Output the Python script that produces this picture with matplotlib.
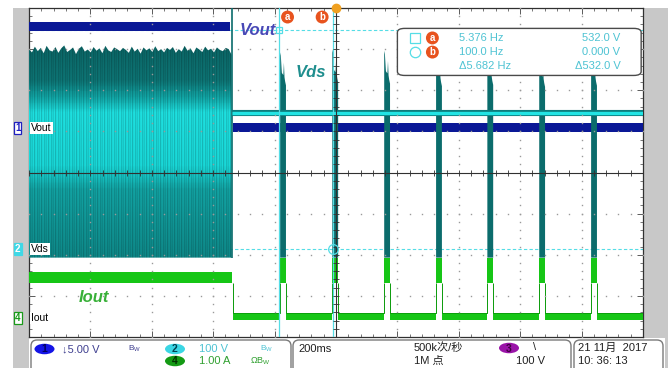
import numpy as np
import matplotlib
matplotlib.use("Agg")
import matplotlib.pyplot as plt
import matplotlib.transforms as mtransforms
from matplotlib.patches import FancyBboxPatch, Ellipse, Rectangle, Polygon
from matplotlib.colors import LinearSegmentedColormap, Normalize

plt.rcParams['font.family'] = ['Liberation Sans', 'Noto Sans CJK SC', 'DejaVu Sans']

# ---- scope settings ----
time_per_div = 0.2                     # s/div, 10 div across
vout_scale, vout_pos = 5.0, 1.08       # V/div, channel marker (div from centre)
vds_scale, vds_pos = 100.0, -1.86
iout_scale, iout_pos = 1.0, -3.54

# ---- traces ----
t_switch = 0.66                        # end of dense switching
vout_before = [11.8, 12.9]             # noise band, V
vout_after = [-0.5, 0.6]

vds_floor = -21.0
vds_flat = 331.0
vds_env_top = [486, 478, 492, 481, 489, 476, 494, 483, 480, 491, 477, 488,
               495, 479, 484, 490, 474, 487, 493, 480, 485, 478, 491, 482,
               488, 476, 494, 483, 479, 490, 486, 481, 489, 484, 477, 492,
               480, 487, 475, 490, 483, 488, 479, 493, 481, 486, 478, 489,
               484, 491, 477, 486, 480, 494, 482, 488, 476, 490, 485, 479,
               492, 483, 487, 478, 490, 484, 481, 489, 486, 472]
burst_t = [0.818, 0.988, 1.157, 1.326, 1.493, 1.662, 1.831]
burst_peak = [478, 485, 482, 476, 479, 474, 477]
burst_width = 0.019

iout_before = [0.85, 1.12]             # A
iout_low = [-0.05, 0.12]
iout_burst = [0.85, 1.46]

cursor_t = [0.815, 0.991]
cursor_v = [532.0, 0.0]

meas_left = ["5.376 Hz", "100.0 Hz", "\u03945.682 Hz"]
meas_right = ["532.0 V", "0.000 V", "\u0394532.0 V"]

# colours
c_vout = '#0a1896'
c_vds_dark = '#0b6c6c'
c_vds = '#22e4e4'
c_iout = '#16c616'
c_iout_dark = '#0a9a0a'
c_cursor = '#55dde6'
c_orange = '#e8531e'


def vdiv(v, scale, pos):
    return np.asarray(v, dtype=float) / scale + pos


fig = plt.figure(figsize=(6.68, 3.68), dpi=100)
fig.patch.set_facecolor('white')

# full-figure overlay in pixel coordinates for the scope chrome
ui = fig.add_axes([0, 0, 1, 1], zorder=0)
ui.set_xlim(0, 668)
ui.set_ylim(368, 0)
ui.axis('off')

ax = fig.add_axes([29 / 668, 31 / 368, 614 / 668, 329 / 368], zorder=1)
ax.set_xlim(0, 10 * time_per_div)
ax.set_ylim(-4, 4)
ax.set_facecolor('white')

# ---- graticule ----
ax.set_xticks(np.arange(0, 2.01, time_per_div))
ax.set_xticks(np.arange(0, 2.01, time_per_div / 5), minor=True)
ax.set_yticks(np.arange(-4, 4.01, 1))
ax.set_yticks(np.arange(-4, 4.01, 0.2), minor=True)
ax.tick_params(which='both', direction='in', top=True, right=True,
               labelbottom=False, labelleft=False, color='#404040')
ax.tick_params(which='major', length=4, width=0.6)
ax.tick_params(which='minor', length=2, width=0.5)
for s in ax.spines.values():
    s.set_color('#303030')
    s.set_linewidth(0.9)

gx, gy = [], []
for k in range(1, 10):
    if k == 5:
        continue
    ys = np.arange(-4, 4.001, 0.2)
    gx += [k * time_per_div] * len(ys)
    gy += list(ys)
for k in range(-3, 4):
    if k == 0:
        continue
    xs = np.arange(0, 2.001, time_per_div / 5)
    gx += list(xs)
    gy += [k] * len(xs)
ax.plot(gx, gy, ls='none', marker='s', ms=1.0, mec='none', mfc='#9a9a9a', zorder=8)
ax.axhline(0, color='#303030', lw=0.8, zorder=8)
ax.axvline(5 * time_per_div, color='#303030', lw=0.8, zorder=8)
ax.plot(np.arange(0, 2.001, time_per_div / 5), np.zeros(51), ls='none',
        marker='|', ms=5, mew=0.6, color='#303030', zorder=8)
ax.plot(np.full(41, 5 * time_per_div), np.arange(-4, 4.001, 0.2), ls='none',
        marker='_', ms=5, mew=0.6, color='#303030', zorder=8)

# ---- cursor lines ----
for t in cursor_t:
    ax.axvline(t, color=c_cursor, lw=0.9, zorder=7)
for v in cursor_v:
    ax.axhline(vdiv(v, vds_scale, vds_pos), color=c_cursor, lw=0.8,
               ls=(0, (3, 2)), zorder=1)

# ---- Vout ----
ax.fill_between([0, t_switch - 0.005], *vdiv(vout_before, vout_scale, vout_pos),
                color=c_vout, lw=0, zorder=3)
ax.fill_between([t_switch + 0.005, 2.0], *vdiv(vout_after, vout_scale, vout_pos),
                color=c_vout, lw=0, zorder=3)

# ---- Vds: dense switching region ----
env_t = np.linspace(0, t_switch, len(vds_env_top))
top_div = vdiv(vds_env_top, vds_scale, vds_pos)
bot_div = float(vdiv(vds_floor, vds_scale, vds_pos))
poly_xy = np.vstack([np.column_stack([env_t, top_div]),
                     [[t_switch, bot_div], [0, bot_div]]])
env_poly = Polygon(poly_xy, closed=True, fc='none', ec='none')
ax.add_patch(env_poly)
ytop = float(top_div.max())
stops_div = [bot_div, -0.43, 0.18, 1.47, 1.81, 2.25, ytop]
stops_col = ['#0e8888', '#12a2a2', '#19d8d8', '#1ee0e0', '#12a8a8', '#0d7474', '#0b6666']
fr = [(d - bot_div) / (ytop - bot_div) for d in stops_div]
cmap = LinearSegmentedColormap.from_list('vds', list(zip(fr, stops_col)))
grad = np.linspace(ytop, bot_div, 220)
n_cols = int(round(t_switch / time_per_div * 61.4))
rgb = cmap(Normalize(bot_div, ytop)(grad))[:, None, :3]
stripe = np.resize([1.0, 0.86, 0.95, 0.9, 1.0, 0.83, 0.97], n_cols)[None, :, None]
tex = np.clip(rgb * stripe, 0, 1)
im = ax.imshow(tex, extent=[0, t_switch, bot_div, ytop], aspect='auto',
               zorder=4, interpolation='nearest')
im.set_clip_path(env_poly)

# transition edge
ax.vlines(t_switch, bot_div, 4, color=c_vds_dark, lw=1.2, zorder=5)

# ---- Vds: bursts ----
prof_x = [0, 0, 0.12, 0.25, 0.3, 0.55, 0.65, 0.75, 0.85, 1.0, 1.0]
prof_dv = [None, 0, -8, -40, -50, -55, -25, -60, -70, -80, None]
for t0, pk in zip(burst_t, burst_peak):
    vs = [vds_floor if d is None else pk + d for d in prof_dv]
    xs = [t0 + f * burst_width for f in prof_x]
    ax.fill(xs, vdiv(vs, vds_scale, vds_pos), color=c_vds_dark, lw=0, zorder=5)

flat_y = float(vdiv(vds_flat, vds_scale, vds_pos))
ax.plot([t_switch, 2.0], [flat_y, flat_y], color='#0d7c7c', lw=4.4,
        solid_capstyle='butt', zorder=5.5)
ax.plot([t_switch, 2.0], [flat_y, flat_y], color=c_vds, lw=2.4,
        solid_capstyle='butt', zorder=5.6)

# ---- Iout ----
ax.fill_between([0, t_switch], *vdiv(iout_before, iout_scale, iout_pos),
                color=c_iout, lw=0, zorder=3)
seg_start = [t_switch + 0.005] + [t + burst_width for t in burst_t]
seg_end = burst_t + [2.0]
low = vdiv(iout_low, iout_scale, iout_pos)
hi = vdiv(iout_burst, iout_scale, iout_pos)
for a, b in zip(seg_start, seg_end):
    ax.fill_between([a, b], *low, color=c_iout, lw=0, zorder=3)
    ax.plot([a, b], [low[1], low[1]], color=c_iout_dark, lw=0.6, zorder=3.1)
for t0 in burst_t:
    ax.fill_between([t0, t0 + burst_width], *hi, color=c_iout, lw=0, zorder=3)
    ax.vlines([t0, t0 + burst_width], low[1], hi[0], color=c_iout_dark, lw=0.7, zorder=3)
ax.vlines(t_switch + 0.003, low[1], vdiv(iout_before[0], iout_scale, iout_pos),
          color=c_iout_dark, lw=0.7, zorder=3)

# ---- cursor markers ----
ax.plot(cursor_t[0], vdiv(cursor_v[0], vds_scale, vds_pos), marker='s', ms=5,
        mfc='none', mec=c_cursor, mew=0.9, zorder=9)
ax.plot(cursor_t[1], vdiv(cursor_v[1], vds_scale, vds_pos), marker='o', ms=7,
        mfc='none', mec=c_cursor, mew=0.9, zorder=9)
for t, lab, dx in zip(cursor_t, ['a', 'b'], [6, -8]):
    ax.annotate(lab, xy=(t, 1.0), xycoords=('data', 'axes fraction'),
                xytext=(dx, -6.5), textcoords='offset points', ha='center',
                va='center', color='white', fontsize=7, fontweight='bold',
                bbox=dict(boxstyle='circle,pad=0.15', fc=c_orange, ec='none'),
                zorder=10, annotation_clip=False)
ax.plot(5 * time_per_div, 4, marker='o', ms=6, color='#f0a020', clip_on=False, zorder=10)

# ---- trace labels ----
ax.text(0.746, vdiv(532, vds_scale, vds_pos), 'Vout', color='#4848b6',
        fontsize=12, fontstyle='italic', fontweight='bold', ha='center',
        va='center', zorder=9)
ax.text(0.918, 2.44, 'Vds', color='#1f8e8e', fontsize=12, fontstyle='italic',
        fontweight='bold', ha='center', va='center', zorder=9)
ax.text(0.212, -3.05, 'Iout', color='#38b038', fontsize=12, fontstyle='italic',
        fontweight='bold', ha='center', va='center', zorder=9)

# ---- measurement box ----
box = FancyBboxPatch((0.600, 0.795), 0.397, 0.143, transform=ax.transAxes,
                     boxstyle='round,pad=0,rounding_size=0.012',
                     fc='white', ec='#4a4a4a', lw=1.0, zorder=11)
ax.add_patch(box)
row_y = [0.909, 0.866, 0.823]
ax.plot(0.628, row_y[0], transform=ax.transAxes, marker='s', ms=7, mfc='none',
        mec=c_cursor, mew=0.9, zorder=12)
ax.plot(0.628, row_y[1], transform=ax.transAxes, marker='o', ms=7.5, mfc='none',
        mec=c_cursor, mew=0.9, zorder=12)
for yy, lab in zip(row_y[:2], ['a', 'b']):
    ax.text(0.657, yy, lab, transform=ax.transAxes, ha='center', va='center',
            color='white', fontsize=7, fontweight='bold', zorder=12,
            bbox=dict(boxstyle='circle,pad=0.15', fc=c_orange, ec='none'))
for yy, l, r in zip(row_y, meas_left, meas_right):
    ax.text(0.700, yy, l, transform=ax.transAxes, ha='left', va='center',
            color='#4ec3d3', fontsize=8, zorder=12)
    ax.text(0.963, yy, r, transform=ax.transAxes, ha='right', va='center',
            color='#4ec3d3', fontsize=8, zorder=12)

# ---- channel markers on the left ----
side = mtransforms.blended_transform_factory(ax.transAxes, ax.transData)
marks = [('1', 'Vout', vout_pos, 'white', '#2020c0', '#2020c0'),
         ('2', 'Vds', vds_pos, '#3fd8e6', '#3fd8e6', 'white'),
         ('4', 'Iout', iout_pos, 'white', '#1a9a1a', '#1a9a1a')]
for num, name, pos, fc, ec, tc in marks:
    ax.text(-0.0185, pos, num, transform=side, ha='center', va='center',
            color=tc, fontsize=7, fontweight='bold', clip_on=False, zorder=12,
            bbox=dict(boxstyle='square,pad=0.12', fc=fc, ec=ec, lw=0.9))
    ax.text(0.003, pos, name, transform=side, ha='left', va='center',
            color='black', fontsize=7.5, zorder=12,
            bbox=dict(boxstyle='square,pad=0.12', fc='white', ec='none'))

# ---- chrome: grey side panels and status bar ----
ui.add_patch(Rectangle((13, 8), 16, 360, fc='#c8c8c8', ec='none'))
ui.add_patch(Rectangle((643, 8), 25, 360, fc='#c8c8c8', ec='none'))
ui.add_patch(Rectangle((29, 338), 636, 30, fc='white', ec='none'))
for x0, x1 in [(31, 291), (293, 571), (574, 663)]:
    ui.add_patch(FancyBboxPatch((x0, 340), x1 - x0, 40,
                                boxstyle='round,pad=0,rounding_size=6',
                                fc='white', ec='#7a7a7a', lw=1.0))

badges = [(44.5, 349, '1', '#1414e6', '#000060'),
          (175, 349, '2', '#3ad6e4', '#004050'),
          (175, 361, '4', '#149a14', '#003000'),
          (509, 348, '3', '#9a14a8', '#400040')]
for bx, by, lab, fc, tc in badges:
    ui.add_patch(Ellipse((bx, by), 20, 10.5, fc=fc, ec='none'))
    ui.text(bx, by + 0.5, lab, ha='center', va='center', color=tc,
            fontsize=7.5, fontweight='bold')

bar_text = [(62, 349, '\u21935.00 V', '#404090', 8),
            (128, 349, 'B$_\\mathregular{W}$', '#404090', 6),
            (199, 349, '100 V', '#4ec3d3', 8),
            (260, 349, 'B$_\\mathregular{W}$', '#4ec3d3', 6),
            (199, 361, '1.00 A', '#30a030', 8),
            (250, 361, '\u03a9B$_\\mathregular{W}$', '#30a030', 6.5),
            (298, 349, '200ms', '#202020', 8),
            (414, 348, '500k次/秒', '#202020', 8),
            (414, 361, '1M 点', '#202020', 8),
            (533, 347, '\\', '#202020', 8),
            (516, 361, '100 V', '#202020', 8),
            (578, 348, '21 11月  2017', '#202020', 8),
            (578, 361, '10: 36: 13', '#202020', 8)]
for bx, by, s, c, fs in bar_text:
    ui.text(bx, by, s, ha='left', va='center', color=c, fontsize=fs)

fig.savefig('out.png', dpi=100)
